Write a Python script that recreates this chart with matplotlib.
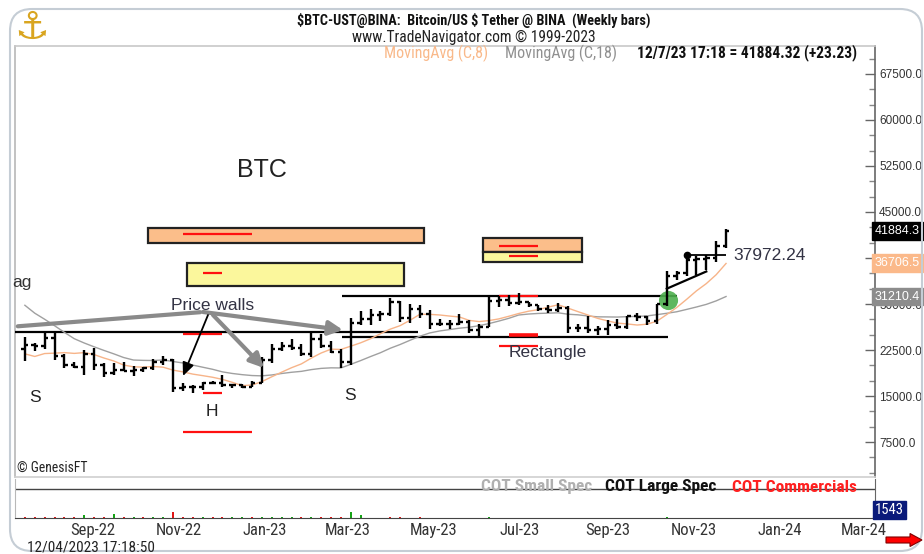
import numpy as np
import pandas as pd
import matplotlib
matplotlib.use("Agg")
import matplotlib.pyplot as plt
import matplotlib.dates as mdates
from matplotlib.ticker import MultipleLocator, FormatStrFormatter
from matplotlib.patches import Rectangle, FancyBboxPatch, FancyArrow, FancyArrowPatch
from matplotlib.transforms import IdentityTransform, ScaledTranslation, blended_transform_factory
from matplotlib import font_manager as fm

entries = fm.fontManager.ttflist
names = {f.name for f in entries}
SANS = 'Liberation Sans' if 'Liberation Sans' in names else 'DejaVu Sans'
NARROW_FAMILY, NARROW_STRETCH = SANS, 'normal'
for cand in ['Liberation Sans Narrow', 'Roboto Condensed', 'Open Sans Condensed', 'Arimo Narrow']:
    if cand in names:
        NARROW_FAMILY = cand
        break
else:
    if any(f.name == 'DejaVu Sans' and f.stretch == 'condensed' for f in entries):
        NARROW_FAMILY, NARROW_STRETCH = 'DejaVu Sans', 'condensed'
NARROW = dict(family=NARROW_FAMILY, stretch=NARROW_STRETCH)
plt.rcParams['font.family'] = [SANS, 'DejaVu Sans']

# ---------------- data ----------------
first_week = "2022-07-25"
n_weeks = 72
opens = [22.6, 23.3, 23.2, 24.4, 21.5, 20.0, 19.8, 21.8, 20.1, 18.8, 19.3, 19.1, 19.2, 19.6, 20.6,
         20.9, 16.3, 16.5, 16.4, 17.1, 17.1, 16.8, 16.8, 16.5, 17.2, 20.9, 22.7, 23.1, 22.9, 21.8,
         24.3, 23.2, 22.2, 20.6, 26.9, 27.5, 28.2, 28.3, 30.3, 27.8, 29.2, 28.4, 26.8, 26.7, 26.8,
         27.1, 25.8, 26.3, 30.5, 30.6, 30.2, 30.3, 29.8, 29.2, 29.1, 29.3, 26.1, 26.1, 25.8, 25.9,
         26.5, 26.3, 28.0, 27.9, 27.2, 30.0, 34.5, 35.0, 37.1, 37.4, 37.5, 39.5]
highs = [24.7, 23.7, 25.2, 25.2, 21.9, 20.6, 22.5, 22.8, 20.4, 20.4, 20.5, 19.9, 19.7, 21.0, 21.5,
         21.1, 17.2, 16.8, 17.3, 17.4, 18.4, 17.0, 16.9, 17.4, 21.3, 23.4, 23.8, 24.3, 23.5, 25.3,
         25.1, 23.9, 22.6, 27.7, 28.9, 29.2, 28.8, 31.0, 30.5, 30.0, 29.8, 29.0, 27.6, 27.4, 28.4,
         27.4, 26.8, 31.4, 31.3, 31.5, 31.8, 30.4, 29.9, 29.8, 30.2, 29.7, 26.8, 28.1, 26.4, 27.4,
         27.5, 28.0, 28.6, 28.0, 30.0, 35.3, 35.3, 37.97, 37.9, 38.0, 40.2, 42.2]
lows = [20.7, 22.4, 22.7, 20.8, 19.5, 19.5, 18.5, 19.3, 18.1, 18.5, 19.1, 18.2, 18.9, 19.2, 20.0,
        15.6, 15.8, 15.5, 16.0, 16.9, 16.5, 16.3, 16.3, 16.5, 17.2, 20.4, 22.3, 22.5, 21.5, 21.4,
        22.8, 22.0, 19.6, 20.0, 26.6, 26.5, 27.2, 28.0, 27.1, 26.9, 27.7, 26.0, 26.4, 25.9, 26.6,
        25.3, 24.8, 26.2, 29.5, 29.7, 29.9, 29.5, 28.9, 28.6, 28.7, 25.2, 25.4, 25.3, 24.9, 24.9,
        26.0, 26.0, 27.2, 26.5, 26.8, 29.7, 33.9, 34.5, 34.8, 35.6, 36.8, 39.2]
closes = [23.3, 23.2, 24.4, 21.5, 20.0, 19.8, 21.8, 20.1, 18.8, 19.3, 19.1, 19.2, 19.6, 20.6, 20.9,
          16.3, 16.5, 16.4, 17.1, 17.1, 16.8, 16.8, 16.5, 17.2, 20.9, 22.7, 23.1, 22.9, 21.8, 24.3,
          23.2, 22.2, 20.6, 26.9, 27.5, 28.2, 28.3, 30.3, 27.8, 29.2, 28.4, 26.8, 26.7, 26.8, 27.1,
          25.8, 26.3, 30.5, 30.6, 30.2, 30.3, 29.8, 29.2, 29.1, 29.3, 26.1, 26.1, 25.8, 25.9, 26.5,
          26.3, 28.0, 27.9, 27.2, 30.0, 34.5, 35.0, 37.1, 37.4, 37.5, 39.5, 41.88432]
# weekly closes before the visible window (for the moving averages)
pre_closes = [46.4, 42.2, 40.4, 39.5, 38.5, 34.3, 31.3, 29.4, 29.4, 29.9, 26.6, 20.6, 21.0,
              19.3, 20.8, 20.8, 22.6]
ma_fast, ma_slow = 8, 18
last_price_label, last_ma8_label, last_ma18_label = "41884.3", "36706.5", "31210.4"
last_price, last_ma8, last_ma18 = 41884.32, 36706.5, 31210.4
high_mark_week, high_mark_value = "2023-11-06", 37972.24

# COT panel (sign -> colour: + green, - red)
cot_net = [-1, -1, -1, -1, -1, -1, 2, -1, -1, 3, -1, 1, -1, 1, 1,
           -4, -1, -1, 1, -1, -1, 1, 1, -1, 1, 1, 1, 1, -1, 1,
           -1, -1, -1, 4, 2, 0, 0, -1, -1, 0, -1, 0, 0, 0, 0,
           0, 0, 1, 0, 0, 0, 0, 0, 0, 0, 0, 0, 0, 0, 0,
           0, 0, 0, 0, 0, 1, 0, 0, 0, 0, 0, 0]
cot_last = 1543

# drawn zones: (start, end, low, high, colour)
zone_start = ["2022-10-20", "2022-11-17", "2023-06-15", "2023-06-15"]
zone_end = ["2023-05-04", "2023-04-20", "2023-08-24", "2023-08-24"]
zone_low = [39.94, 32.93, 38.48, 36.85]
zone_high = [42.39, 36.68, 40.76, 38.48]
zone_color = ["#FBBE8A", "#FBF79C", "#FBBE8A", "#FBF79C"]

# black levels: (start, end, price)
lvl_start = ["2022-07-10", "2023-03-07", "2023-03-07"]
lvl_end = ["2023-04-30", "2023-10-30", "2023-10-24"]
lvl_price = [25.48, 31.25, 24.67]

# red marks: (start, end, price, width)
red_start = ["2022-11-14", "2022-11-28", "2022-11-14", "2022-11-28", "2022-11-14",
             "2023-06-26", "2023-07-03", "2023-06-26", "2023-07-03", "2023-06-26"]
red_end = ["2023-01-02", "2022-12-12", "2022-12-12", "2022-12-12", "2023-01-02",
           "2023-07-24", "2023-07-24", "2023-07-24", "2023-07-24", "2023-07-24"]
red_price = [41.41, 35.05, 25.19, 15.44, 9.18, 39.46, 37.83, 31.25, 24.95, 23.15]
red_width = [1.6, 1.6, 1.6, 1.6, 1.6, 1.6, 1.6, 1.6, 2.6, 1.6]

breakout_week, breakout_price = "2023-10-24", 30.65

# ---------------- figure ----------------
W, H = 924, 554
fig = plt.figure(figsize=(W / 100, H / 100), dpi=100)
fig.patch.set_facecolor("white")


def fr(x, y):
    return (x / W, 1 - y / H)


ax = fig.add_axes([15 / W, 1 - 477 / H, 860 / W, (477 - 46) / H])
cax = fig.add_axes([15 / W, 1 - 518 / H, 860 / W, (518 - 479) / H], sharex=ax)

dates = pd.date_range(first_week, periods=n_weeks, freq="7D")
O = np.array(opens) * 1000
Hh = np.array(highs) * 1000
L = np.array(lows) * 1000
C = np.array(closes) * 1000

x_left = pd.Timestamp("2022-07-18")
x_right = pd.Timestamp("2024-03-18 14:00")
ax.set_xlim(x_left, x_right)
ax.set_ylim(1800, 72060)

# zones
for s, e, lo, hi, col in zip(zone_start, zone_end, zone_low, zone_high, zone_color):
    s = mdates.date2num(pd.Timestamp(s)); e = mdates.date2num(pd.Timestamp(e))
    ax.add_patch(Rectangle((s, lo * 1000), e - s, (hi - lo) * 1000, fc=col, ec="#222222", lw=1.6, zorder=2))

for s, e, p in zip(lvl_start, lvl_end, lvl_price):
    ax.hlines(p * 1000, pd.Timestamp(s), pd.Timestamp(e), color="black", lw=1.6, zorder=3)

for s, e, p, w in zip(red_start, red_end, red_price, red_width):
    ax.hlines(p * 1000, pd.Timestamp(s), pd.Timestamp(e), color="#FF1010", lw=w, zorder=4)

# breakout circle
ax.scatter([pd.Timestamp(breakout_week)], [breakout_price * 1000], s=190, color="#4DB04D",
           alpha=0.9, zorder=3, lw=0)

# moving averages
allc = pd.Series(list(pre_closes) + list(closes)) * 1000
m8 = allc.rolling(ma_fast).mean().iloc[len(pre_closes):].values
m18 = allc.rolling(ma_slow).mean().iloc[len(pre_closes):].values
ax.plot(dates, m18, color="#A0A0A0", lw=1.0, zorder=4)
ax.plot(dates, m8, color="#F7B489", lw=1.0, zorder=4)

# OHLC bars
tl = pd.Timedelta(days=2.4)
ax.vlines(dates, L, Hh, color="black", lw=1.7, zorder=5)
ax.hlines(O, dates - tl, dates, color="black", lw=1.7, zorder=5)
ax.hlines(C, dates, dates + tl, color="black", lw=1.7, zorder=5)

# recent high marker
hm = pd.Timestamp(high_mark_week)
ax.hlines(high_mark_value, hm, dates[-1], color="black", lw=1.3, zorder=5)
ax.plot([hm], [high_mark_value], "o", color="black", ms=4.5, zorder=6)
# trend line from breakout
ax.plot([pd.Timestamp("2023-10-23"), pd.Timestamp("2023-11-20")], [32.5e3, 35.3e3], color="black", lw=1.6, zorder=5)

# axes styling
ax.yaxis.tick_right()
ax.set_yticks(np.arange(7500, 70000, 7500))
ax.yaxis.set_major_formatter(FormatStrFormatter("%.1f"))
ax.yaxis.set_minor_locator(MultipleLocator(2500))
ax.tick_params(axis="y", which="major", direction="in", length=7, width=1, color="#666666",
               labelcolor="#333333", labelsize=8.5, pad=3)
ax.tick_params(axis="y", which="minor", direction="in", length=4, width=1, color="#888888")
ax.tick_params(axis="x", which="both", bottom=False, labelbottom=False)
for sp, col in [("top", "#C8C8C8"), ("left", "#B8B8B8"), ("bottom", "#D0D0D0"), ("right", "#666666")]:
    ax.spines[sp].set_color(col)
    ax.spines[sp].set_linewidth(1.2)
# the 37500 label sits fully under the MA(8) value box
for lab, v in zip(ax.get_yticklabels(), ax.get_yticks()):
    if abs(v - 37500) < 1:
        lab.set_visible(False)

# value boxes on the price scale
bt = blended_transform_factory(ax.transAxes, ax.transData)
for val, txt, bg in [(last_price, last_price_label, "#000000"), (last_ma8, last_ma8_label, "#FBB98A"),
                     (last_ma18, last_ma18_label, "#8C8C8C")]:
    ax.text(1.0, val, txt, transform=bt, ha="left", va="center", color="white", fontsize=9,
            clip_on=False, zorder=10,
            bbox=dict(boxstyle="square,pad=0.22", fc=bg, ec=bg))

# COT panel
cax.set_ylim(0, 26)
cols = ["#10A010" if v > 0 else "#E01010" for v in cot_net]
cax.vlines(dates, 0, np.abs(cot_net), colors=cols, lw=1.4)
cax.plot([0, 1], [0.744, 0.744], transform=cax.transAxes, color="#444444", lw=1.0)
cax.set_yticks([])
for sp, col in [("top", "#D0D0D0"), ("left", "#B8B8B8"), ("bottom", "#444444"), ("right", "#666666")]:
    cax.spines[sp].set_color(col)
cax.spines["top"].set_visible(False)
cax.xaxis.set_major_locator(mdates.MonthLocator(bymonth=[1, 3, 5, 7, 9, 11]))
cax.xaxis.set_major_formatter(mdates.DateFormatter("%b-%y"))
cax.tick_params(axis="x", length=0, pad=3.5, labelsize=12, labelcolor="#333333")
for lab in cax.get_xticklabels():
    lab.set_fontfamily(NARROW["family"])
    lab.set_fontstretch(NARROW["stretch"])
    lab.set_transform(lab.get_transform() + ScaledTranslation(14 / 100, 0, fig.dpi_scale_trans))
cax.text(1.0, 0.2, f"{cot_last}", transform=cax.transAxes, ha="left", va="center", color="white",
         fontsize=10.5, clip_on=False, **NARROW,
         bbox=dict(boxstyle="square,pad=0.15", fc="#0A1A7A", ec="#0A1A7A"))

# ---------------- texts ----------------
def ftext(x, y, s, **kw):
    kw.setdefault("ha", "center"); kw.setdefault("va", "center")
    fig.text(*fr(x, y), s, parse_math=False, **kw)

ftext(474, 20, "$BTC-UST@BINA:  Bitcoin/US $ Tether @ BINA  (Weekly bars)", **NARROW,
      weight="bold", fontsize=10.3, color="#111111")
ftext(474, 37, "www.TradeNavigator.com © 1999-2023", **NARROW, fontsize=11.2, color="#222222")
ftext(384, 53, "MovingAvg (C,8)", **NARROW, fontsize=11.5, color="#F9B98A", ha="left")
ftext(505, 53, "MovingAvg (C,18)", **NARROW, fontsize=11.5, color="#909090", ha="left")
ftext(637, 53, "12/7/23 17:18 = 41884.32 (+23.23)", **NARROW, fontsize=11.2, color="#111111",
      ha="left", weight="bold")

ftext(262, 170, "BTC", fontsize=18, color="#222222")
ftext(12, 282, "ag", fontsize=12.5, color="#333333", ha="left")
ftext(213, 305, "Price walls", fontsize=12.5, color="#333344")
ftext(35, 398, "S", fontsize=12.5, color="#222222")
ftext(212, 411, "H", fontsize=12.5, color="#222222")
ftext(350, 395, "S", fontsize=12.5, color="#222222")
ftext(548, 353, "Rectangle", fontsize=12.5, color="#333344")
ftext(733, 256, "37972.24", fontsize=12.5, color="#333344", ha="left")

ftext(17, 468, "© GenesisFT", **NARROW, fontsize=9.8, color="#222222", ha="left")
ftext(481, 487, "COT Small Spec", **NARROW, weight="bold", fontsize=12.5, color="#B0B0B0", ha="left")
ftext(605, 487, "COT Large Spec", **NARROW, weight="bold", fontsize=12.5, color="#111111", ha="left")
ftext(732, 487, "COT Commercials", **NARROW, weight="bold", fontsize=12.5, color="#FF2020", ha="left")
ftext(27, 547, "12/04/2023 17:18:50", **NARROW, fontsize=11, color="#222222", ha="left")

# logo
ftext(32, 28, "\u2693", fontsize=28, color="#D9A520", family="DejaVu Sans")

# arrows (figure pixel coordinates)
def P(x, y):
    return (x, H - y)

ap_gray = dict(arrowstyle="-|>,head_length=0.7,head_width=0.35", lw=3, color="#8A8A8A",
               shrinkA=0, shrinkB=0)
fig.add_artist(FancyArrowPatch(P(203, 312), P(15, 326.5), arrowstyle="-", lw=3, color="#8A8A8A",
                               transform=IdentityTransform()))
fig.add_artist(FancyArrowPatch(P(203, 312), P(343, 330), mutation_scale=12,
                               transform=IdentityTransform(), **ap_gray))
fig.add_artist(FancyArrowPatch(P(213, 315), P(264, 368), mutation_scale=12,
                               transform=IdentityTransform(), **ap_gray))
fig.add_artist(FancyArrowPatch(P(208, 315), P(183, 376), mutation_scale=10,
                               arrowstyle="-|>,head_length=0.8,head_width=0.35",
                               lw=1.3, color="black", shrinkA=0, shrinkB=0,
                               transform=IdentityTransform()))

# outer rounded frame
fig.add_artist(FancyBboxPatch((10, 3), 912, 542, boxstyle="round,pad=0,rounding_size=22",
                              transform=IdentityTransform(), fill=False, ec="#C5CDD5", lw=1.5))
# red arrow bottom-right
fig.add_artist(FancyArrow(886, H - 540, 36, 0, width=6, head_width=13, head_length=12,
                          length_includes_head=True, fc="#FF0000", ec="#800000", lw=0.8,
                          transform=IdentityTransform()))

fig.savefig("out.png", dpi=100)
